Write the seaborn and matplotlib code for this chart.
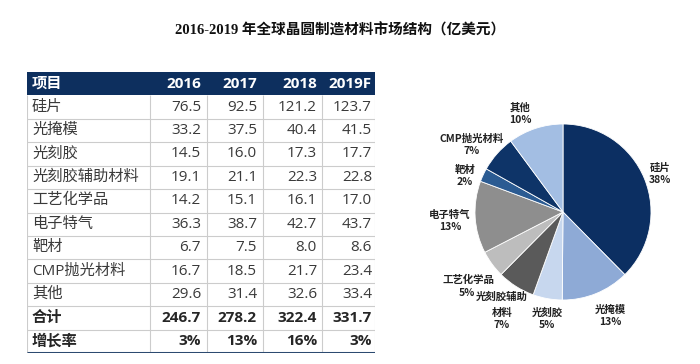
import matplotlib
matplotlib.use("Agg")
import matplotlib.pyplot as plt
import numpy as np
import seaborn as sns

# data
items = ["硅片", "光掩模", "光刻胶", "光刻胶辅助材料", "工艺化学品",
         "电子特气", "靶材", "CMP抛光材料", "其他"]
years = ["2016", "2017", "2018", "2019F"]
v2016 = [76.5, 33.2, 14.5, 19.1, 14.2, 36.3, 6.7, 16.7, 29.6]
v2017 = [92.5, 37.5, 16.0, 21.1, 15.1, 38.7, 7.5, 18.5, 31.4]
v2018 = [121.2, 40.4, 17.3, 22.3, 16.1, 42.7, 8.0, 21.7, 32.6]
v2019 = [123.7, 41.5, 17.7, 22.8, 17.0, 43.7, 8.6, 23.4, 33.4]
totals = [246.7, 278.2, 322.4, 331.7]
growth = ["3%", "13%", "16%", "3%"]

pie_labels = ["硅片", "光掩模", "光刻胶", "光刻胶辅助\n材料", "工艺化学品",
              "电子特气", "靶材", "CMP抛光材料", "其他"]
pie_colors = ["#0c2f62", "#8eaad6", "#c7d7ee", "#5a5a5a", "#bdbdbd",
              "#8e8e8e", "#2b5b92", "#0e3468", "#a3bee3"]

sns.set_theme(style="white")
plt.rcParams["font.family"] = ["Open Sans", "Noto Sans CJK SC", "DejaVu Sans"]

W, H = 700, 364
fig = plt.figure(figsize=(W / 100, H / 100), dpi=100)
fig.patch.set_facecolor("white")

fig.text(340 / W, 1 - 30 / H, "2016-2019 年全球晶圆制造材料市场结构（亿美元）",
         ha="center", va="center", fontsize=10.5, fontweight="bold",
         family=["Liberation Serif", "Noto Sans CJK SC"], color="#111111")

# ---- table ----
tl, tr, tt, tb = 27, 375, 72, 353
tax = fig.add_axes([tl / W, 1 - tb / H, (tr - tl) / W, (tb - tt) / H])
n_rows = 12
tax.set_xlim(0, tr - tl)
tax.set_ylim(n_rows, 0)
tax.axis("off")

col_edges = [0, 123, 180, 236, 295, 348]
navy = "#0d2f5e"
grid = "#cccccc"

tax.axhspan(0, 1, xmin=0, xmax=1, color=navy, lw=0)
for r in range(2, n_rows):
    tax.hlines(r, 0, col_edges[-1], color=grid, lw=0.8)
for x in col_edges:
    tax.vlines(x, 1, n_rows, color=grid, lw=0.8)
tax.hlines(n_rows - 0.02, 0, col_edges[-1], color="#2c4a70", lw=2.2)

pads = [6, 6, 5, 3]
fs = 11
txt = "#3a3a3a"
tax.text(5, 0.5, "项目", ha="left", va="center", color="white",
         fontweight="bold", fontsize=fs)
for j, y in enumerate(years):
    tax.text(col_edges[j + 2] - pads[j], 0.5, y, ha="right", va="center",
             color="white", fontweight="bold", fontsize=fs)

cols = [v2016, v2017, v2018, v2019]
for i, name in enumerate(items):
    r = i + 1.5
    tax.text(5, r, name, ha="left", va="center", color=txt, fontsize=fs)
    for j in range(4):
        tax.text(col_edges[j + 2] - pads[j], r, f"{cols[j][i]:.1f}",
                 ha="right", va="center", color=txt, fontsize=fs)

for k, (name, vals) in enumerate([("合计", [f"{t:.1f}" for t in totals]),
                                  ("增长率", growth)]):
    r = 10.5 + k
    tax.text(5, r, name, ha="left", va="center", color="#262626",
             fontweight="bold", fontsize=fs)
    for j in range(4):
        tax.text(col_edges[j + 2] - pads[j], r, vals[j], ha="right",
                 va="center", color="#262626", fontweight="bold", fontsize=fs)

# ---- pie (2018 values) ----
cx, cy, rad = 563, 212, 88
pax = fig.add_axes([(cx - rad) / W, 1 - (cy + rad) / H, 2 * rad / W, 2 * rad / H])
pax.pie(v2018, colors=pie_colors, startangle=90, counterclock=False,
        wedgeprops=dict(edgecolor="white", linewidth=0.6))
pax.set_xlim(-1, 1)
pax.set_ylim(-1, 1)
pax.set_aspect("equal")

shares = [round(v / sum(v2018) * 100) for v in v2018]
label_pos = [(660, 174), (610, 316), (547, 319), (502, 311), (468, 286),
             (450, 221), (465, 176), (472, 145), (520, 114)]
lfs = 7.5
lab_font = ["Noto Sans CJK SC", "DejaVu Sans"]
for lab, s, (x, y) in zip(pie_labels, shares, label_pos):
    if lab.startswith("光刻胶辅助"):
        fig.text(x / W, 1 - 297 / H, "光刻胶辅助", ha="center", va="center",
                 fontsize=lfs, fontweight="bold", color="#222222", family=lab_font)
        fig.text(x / W, 1 - 319 / H, f"材料\n{s}%", ha="center", va="center",
                 fontsize=lfs, fontweight="bold", color="#222222",
                 linespacing=1.3, family=lab_font)
    elif lab == "工艺化学品":
        fig.text(x / W, 1 - 280 / H, lab, ha="center", va="center",
                 fontsize=lfs, fontweight="bold", color="#222222", family=lab_font)
        fig.text(467 / W, 1 - 293 / H, f"{s}%", ha="center", va="center",
                 fontsize=lfs, fontweight="bold", color="#222222", family=lab_font)
    else:
        fig.text(x / W, 1 - y / H, f"{lab}\n{s}%", ha="center", va="center",
                 fontsize=lfs, fontweight="bold", color="#222222",
                 linespacing=1.3, family=lab_font)

fig.savefig("out.png", dpi=100, facecolor="white")
